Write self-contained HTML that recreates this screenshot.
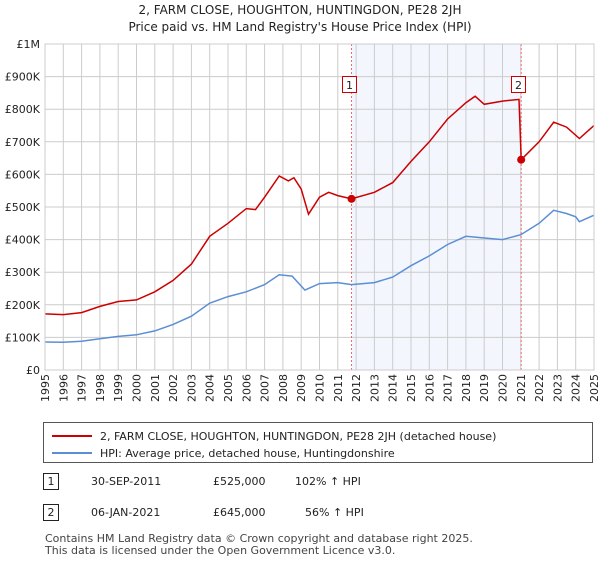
<!DOCTYPE html>
<html><head><meta charset="utf-8"><style>
body{margin:0;background:#fff;font-family:"Liberation Sans","DejaVu Sans",sans-serif;}
svg text{font-family:"DejaVu Sans","Liberation Sans",sans-serif;}
</style></head><body>
<svg width="600" height="560" xmlns="http://www.w3.org/2000/svg">
<text x="300" y="14" text-anchor="middle" font-size="12" fill="#222">2, FARM CLOSE, HOUGHTON, HUNTINGDON, PE28 2JH</text>
<text x="300" y="31" text-anchor="middle" font-size="12" fill="#222">Price paid vs. HM Land Registry's House Price Index (HPI)</text>
<g id="plot"></g>
<g>
<rect x="43.5" y="422.5" width="549" height="40" fill="#fff" stroke="#555"/>
<line x1="52" y1="436" x2="92" y2="436" stroke="#cc0000" stroke-width="2"/>
<text x="100" y="440" font-size="11" fill="#222">2, FARM CLOSE, HOUGHTON, HUNTINGDON, PE28 2JH (detached house)</text>
<line x1="52" y1="453" x2="92" y2="453" stroke="#5b8fd4" stroke-width="2"/>
<text x="100" y="457" font-size="11" fill="#222">HPI: Average price, detached house, Huntingdonshire</text>
</g>
<g font-size="11" fill="#222">
<rect x="43.5" y="473.5" width="15" height="16" fill="#fff" stroke="#222"/>
<text x="51" y="485" text-anchor="middle">1</text>
<text x="91" y="485">30-SEP-2011</text><text x="213" y="485">£525,000</text><text x="295" y="485">102% ↑ HPI</text>
<rect x="43.5" y="504.5" width="15" height="16" fill="#fff" stroke="#222"/>
<text x="51" y="516" text-anchor="middle">2</text>
<text x="91" y="516">06-JAN-2021</text><text x="213" y="516">£645,000</text><text x="305" y="516">56% ↑ HPI</text>
</g>
<text x="45" y="542" font-size="11" fill="#444">Contains HM Land Registry data © Crown copyright and database right 2025.</text>
<text x="45" y="554" font-size="11" fill="#444">This data is licensed under the Open Government Licence v3.0.</text>
</svg>
<script>
const hpiYears=[1995,1996,1997,1998,1999,2000,2001,2002,2003,2004,2005,2006,2007,2007.8,2008.5,2009.2,2010,2011,2011.75,2013,2014,2015,2016,2017,2018,2019,2020,2021,2022,2022.8,2023.5,2024,2024.2,2025];
const hpiValues=[86,85,88,96,103,108,120,140,165,205,225,240,262,292,288,245,265,268,262,268,285,320,350,385,410,405,400,415,450,490,480,470,455,475];
const ppYears=[1995,1996,1997,1998,1999,2000,2001,2002,2003,2004,2005,2006,2006.5,2007,2007.8,2008.3,2008.6,2009,2009.4,2010,2010.5,2011,2011.75,2013,2014,2015,2016,2017,2018,2018.5,2019,2020,2020.9,2021.02,2022,2022.8,2023.5,2024.2,2025];
const ppValues=[172,170,176,195,210,215,240,275,325,410,450,495,492,530,595,580,590,555,478,530,545,535,525,545,575,640,700,770,820,840,815,825,830,645,700,760,745,710,750];
const saleYears=[2011.75,2021.02];
const saleValues=[525,645];
const saleLabels=["1","2"];
const yTicks=[0,100,200,300,400,500,600,700,800,900,1000];
const yTickLabels=["£0","£100K","£200K","£300K","£400K","£500K","£600K","£700K","£800K","£900K","£1M"];
const xTicks=[1995,1996,1997,1998,1999,2000,2001,2002,2003,2004,2005,2006,2007,2008,2009,2010,2011,2012,2013,2014,2015,2016,2017,2018,2019,2020,2021,2022,2023,2024,2025];
const X0=45,X1=594,Y0=370,Y1=44;
const xs=y=>X0+(y-1995)/30*(X1-X0);
const ys=v=>Y0-v/1000*(Y0-Y1);
const NS="http://www.w3.org/2000/svg";
const g=document.getElementById('plot');
function mk(t,a,p){const e=document.createElementNS(NS,t);for(const k in a)e.setAttribute(k,a[k]);(p||g).appendChild(e);return e;}
let sh=mk('rect',{x:xs(saleYears[0]),y:Y1,width:xs(saleYears[1])-xs(saleYears[0]),height:Y0-Y1,fill:'#eef2fc',opacity:0.7});


xTicks.forEach(t=>{
 let l=mk('line',{x1:xs(t),x2:xs(t),y1:Y1,y2:Y0,stroke:'#ccc'});
 
 
 let tx=mk('text',{x:0,y:0,'font-size':11,fill:'#222','text-anchor':'end',transform:`translate(${xs(t)+4},${Y0+4}) rotate(-90)`});
 tx.textContent=t;
 
 
});
yTicks.forEach((t,i)=>{
 let l=mk('line',{x1:X0,x2:X1,y1:ys(t),y2:ys(t),stroke:'#ccc'});
 
 
 let tx=mk('text',{x:40,y:ys(t)+4,'font-size':11,fill:'#222','text-anchor':'end'});
 tx.textContent=yTickLabels[i];
 
 
});
saleYears.forEach(s=>{
 let l=mk('line',{x1:xs(s),x2:xs(s),y1:Y1,y2:Y0,stroke:'#e86a6a','stroke-dasharray':'2,2'});
 
 
});
function path(xa,va){return xa.map((x,i)=>(i?'L':'M')+xs(x).toFixed(1)+','+ys(va[i]).toFixed(1)).join('');}
let hp=mk('path',{d:path(hpiYears,hpiValues),fill:'none',stroke:'#5b8fd4','stroke-width':1.5});


let pp=mk('path',{d:path(ppYears,ppValues),fill:'none',stroke:'#cc0000','stroke-width':1.5});


saleYears.forEach((s,i)=>{
 let c=mk('circle',{cx:xs(s),cy:ys(saleValues[i]),r:4,fill:'#cc0000'});
 
 
 let bx=Math.round(xs(s))-10;
 let r=mk('rect',{x:bx+0.5,y:76.5,width:14,height:16,fill:'#fff',stroke:'#cc0000'});
 
 
 let t=mk('text',{x:bx+7.5,y:89,'font-size':11,fill:'#222','text-anchor':'middle'});
 t.textContent=saleLabels[i];
 
 
});
let bd=mk('rect',{x:X0,y:Y1,width:X1-X0,height:Y0-Y1,fill:'none',stroke:'#ccc'});


</script>
</body></html>
